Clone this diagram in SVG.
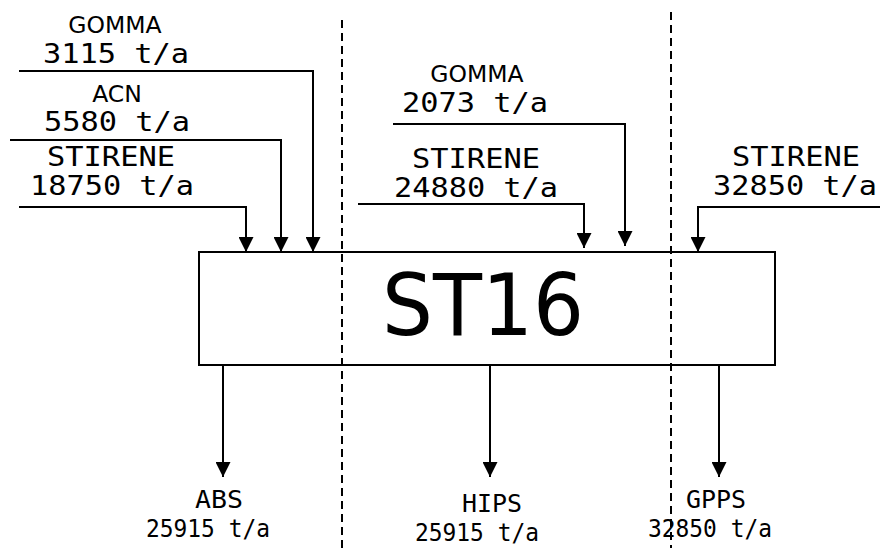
<svg xmlns="http://www.w3.org/2000/svg" width="880" height="548" viewBox="0 0 880 548">
<style>
.ln{fill:none;stroke:#000;stroke-width:2}
.dash{fill:none;stroke:#000;stroke-width:2;stroke-dasharray:8,5}
.sans{font-family:"DejaVu Sans",Verdana,sans-serif;font-size:23.5px;fill:#000;text-anchor:middle}
.mono{font-family:"DejaVu Sans Mono","Liberation Mono",monospace;font-size:27px;fill:#000;text-anchor:middle}
.bot{font-family:"DejaVu Sans Mono","Liberation Mono",monospace;font-size:25px;fill:#000;text-anchor:middle}
.big{font-family:"DejaVu Sans",Verdana,sans-serif;font-size:86px;fill:#000;text-anchor:middle}
</style>
<defs>
<marker id="ah" viewBox="0 0 15 15" refX="15" refY="7.5" markerWidth="15" markerHeight="15" markerUnits="userSpaceOnUse" orient="auto">
<path d="M0,0 L15,7.5 L0,15 Z" fill="#000"/>
</marker>
</defs>
<rect width="880" height="548" fill="#fff"/>
<g id="dividers">
<line class="dash" x1="342" y1="20" x2="342" y2="548"/>
<line class="dash" x1="671" y1="12" x2="671" y2="548"/>
</g>
<g id="connectors">
<polyline class="ln" points="19,71 313,71 313,252" marker-end="url(#ah)"/>
<polyline class="ln" points="10,140 281,140 281,252" marker-end="url(#ah)"/>
<polyline class="ln" points="19,207 246,207 246,252" marker-end="url(#ah)"/>
<polyline class="ln" points="393,124 625,124 625,246" marker-end="url(#ah)"/>
<polyline class="ln" points="358,204 584,204 584,248" marker-end="url(#ah)"/>
<polyline class="ln" points="880,207 698,207 698,252" marker-end="url(#ah)"/>
<line class="ln" x1="223" y1="365" x2="223" y2="477" marker-end="url(#ah)"/>
<line class="ln" x1="490" y1="365" x2="490" y2="477" marker-end="url(#ah)"/>
<line class="ln" x1="719" y1="365" x2="719" y2="477" marker-end="url(#ah)"/>
</g>
<g id="st16">
<rect x="199" y="252" width="576" height="113" fill="none" stroke="#000" stroke-width="2"/>
<text class="big" x="483" y="335" textLength="202" lengthAdjust="spacingAndGlyphs">ST16</text>
</g>
<g id="in-gomma-3115">
<text class="sans" x="115" y="33">GOMMA</text>
<text class="mono" x="116" y="63" textLength="146" lengthAdjust="spacingAndGlyphs">3115 t/a</text>
</g>
<g id="in-acn">
<text class="sans" x="117" y="102">ACN</text>
<text class="mono" x="117" y="131" textLength="146" lengthAdjust="spacingAndGlyphs">5580 t/a</text>
</g>
<g id="in-stirene-18750">
<text class="mono" x="111" y="166" textLength="128" lengthAdjust="spacingAndGlyphs">STIRENE</text>
<text class="mono" x="112" y="195" textLength="164" lengthAdjust="spacingAndGlyphs">18750 t/a</text>
</g>
<g id="in-gomma-2073">
<text class="sans" x="477" y="82">GOMMA</text>
<text class="mono" x="475" y="112" textLength="146" lengthAdjust="spacingAndGlyphs">2073 t/a</text>
</g>
<g id="in-stirene-24880">
<text class="mono" x="476" y="168" textLength="128" lengthAdjust="spacingAndGlyphs">STIRENE</text>
<text class="mono" x="476" y="197" textLength="164" lengthAdjust="spacingAndGlyphs">24880 t/a</text>
</g>
<g id="in-stirene-32850">
<text class="mono" x="796" y="166" textLength="128" lengthAdjust="spacingAndGlyphs">STIRENE</text>
<text class="mono" x="795" y="195" textLength="164" lengthAdjust="spacingAndGlyphs">32850 t/a</text>
</g>
<g id="out-abs">
<text class="bot" x="219" y="508" textLength="48" lengthAdjust="spacingAndGlyphs">ABS</text>
<text class="bot" x="208" y="537" textLength="124" lengthAdjust="spacingAndGlyphs">25915 t/a</text>
</g>
<g id="out-hips">
<text class="bot" x="492" y="512" textLength="60" lengthAdjust="spacingAndGlyphs">HIPS</text>
<text class="bot" x="477" y="541" textLength="124" lengthAdjust="spacingAndGlyphs">25915 t/a</text>
</g>
<g id="out-gpps">
<text class="bot" x="716" y="508" textLength="60" lengthAdjust="spacingAndGlyphs">GPPS</text>
<text class="bot" x="710" y="537" textLength="124" lengthAdjust="spacingAndGlyphs">32850 t/a</text>
</g>
</svg>
